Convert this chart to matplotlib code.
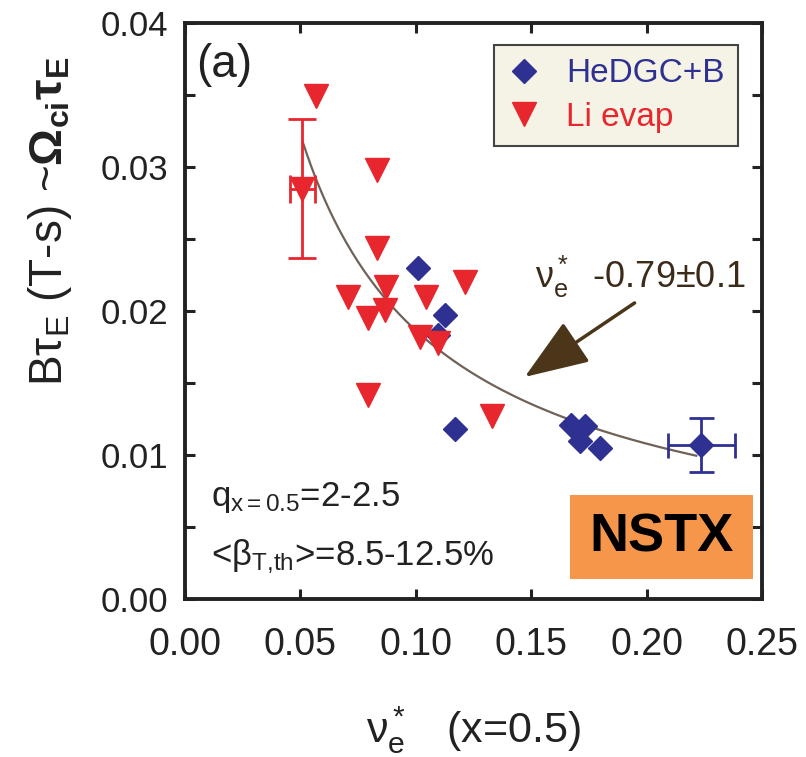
import numpy as np
import matplotlib.pyplot as plt
from matplotlib.patches import Rectangle

plt.rcParams['font.family'] = ['Liberation Sans', 'DejaVu Sans']
plt.rcParams['mathtext.fontset'] = 'custom'
plt.rcParams['mathtext.rm'] = 'Liberation Sans'
plt.rcParams['mathtext.it'] = 'Liberation Sans:italic'
plt.rcParams['mathtext.bf'] = 'Liberation Sans:bold'
plt.rcParams['mathtext.default'] = 'regular'

# Li evaporation shots
li_x = [0.0569, 0.0830, 0.0830, 0.1212, 0.0873, 0.0707, 0.1046,
        0.0866, 0.0794, 0.1017, 0.1097, 0.0794, 0.1328]
li_y = [0.0349, 0.0298, 0.0244, 0.0220, 0.0217, 0.0210, 0.0210,
        0.0201, 0.0195, 0.0182, 0.0178, 0.0142, 0.0127]
# representative point with error bars
li_err_x, li_err_y = 0.0508, 0.0285
li_xerr, li_yerr = 0.0054, 0.0048

# HeDGC+B shots
he_x = [0.1010, 0.1126, 0.1097, 0.1169, 0.1674, 0.1732, 0.1710, 0.1797]
he_y = [0.0230, 0.0197, 0.0183, 0.0118, 0.0121, 0.0120, 0.0110, 0.0105]
he_err_x, he_err_y = 0.2237, 0.0107
he_xerr, he_yerr = 0.0145, 0.0019

# power-law fit  B*tau_E ~ nu_e*^-0.79
fit_exp = -0.79
fit_x0, fit_y0 = 0.0511, 0.0317
fit_xmax = 0.2215

red = '#e8262d'
blue = '#2e3192'
brown = '#4b3619'
ink = '#222222'

fig = plt.figure(figsize=(8.06, 7.57), dpi=100)
ax = fig.add_axes([185/806, 1-599/757, 577/806, 576/757])

xf = np.linspace(fit_x0, fit_xmax, 200)
ax.plot(xf, fit_y0 * (xf / fit_x0) ** fit_exp, color='#6e6259', lw=1.6, zorder=2)

ax.plot(he_x, he_y, 'D', color=blue, ms=12.5, ls='none', label='HeDGC+B', zorder=3)
ax.errorbar(he_err_x, he_err_y, xerr=he_xerr, yerr=he_yerr, fmt='D', color=blue,
            ms=12.5, capsize=9, elinewidth=2, capthick=2, zorder=3)
ax.plot(li_x, li_y, 'v', color=red, ms=17, ls='none', label='Li evap', zorder=4)
ax.errorbar(li_err_x, li_err_y, xerr=li_xerr, yerr=li_yerr, fmt='v', color=red,
            ms=17, capsize=10, elinewidth=2, capthick=2, zorder=4)

ax.set_xlim(0, 0.25)
ax.set_ylim(0, 0.04)
ax.set_xticks(np.arange(0, 0.251, 0.05))
ax.set_yticks(np.arange(0, 0.041, 0.01))
ax.set_yticks(np.arange(0.005, 0.04, 0.01), minor=True)
ax.xaxis.set_major_formatter(plt.FormatStrFormatter('%.2f'))
ax.yaxis.set_major_formatter(plt.FormatStrFormatter('%.2f'))
ax.tick_params(which='both', direction='in', top=True, right=True,
               length=7, width=2.2, color=ink)
ax.tick_params(axis='x', labelsize=27, pad=20, labelcolor=ink)
ax.tick_params(axis='y', labelsize=25, pad=12, labelcolor=ink)
for s in ax.spines.values():
    s.set_linewidth(2.8)
    s.set_color(ink)

ax.set_xlabel(r'$\nu_e^*$   (x=0.5)', fontsize=31, labelpad=30, color=ink)
fig.text(50/806, 1-221/757, r'B$\tau_E$ (T-s) ~$\mathbf{\Omega_{ci}\tau_E}$',
         rotation=90, ha='center', va='center', fontsize=33, color=ink)

ax.text(0.019, 0.927, '(a)', transform=ax.transAxes, fontsize=33,
        ha='left', va='center', color=ink)

leg = ax.legend(loc='upper right', bbox_to_anchor=(0.958, 0.962), fontsize=24,
                frameon=True, fancybox=False, edgecolor='#444444',
                facecolor='#f5f3e5', framealpha=1, numpoints=1,
                handlelength=1.0, handletextpad=0.75, borderpad=0.4,
                labelspacing=0.38, borderaxespad=0)
leg.get_frame().set_linewidth(1.5)
for t, c in zip(leg.get_texts(), [blue, red]):
    t.set_color(c)

ax.annotate('', xy=(0.1472, 0.01542), xytext=(0.1948, 0.02056),
            arrowprops=dict(arrowstyle='-|>,head_length=2.0,head_width=0.75',
                            lw=2.5, color=brown, mutation_scale=20,
                            shrinkA=0, shrinkB=0))
ax.text(0.1515, 0.0224, r'$\nu_e^*$  -0.79±0.1', fontsize=26, color='#3d2b1a',
        ha='left', va='center')

ax.text(0.045, 0.1615, r'q$_{x=0.5}$=2-2.5', transform=ax.transAxes, fontsize=25,
        ha='left', va='baseline', color=ink)
ax.text(0.045, 0.059, r'<$\beta_{T{,}th}$>=8.5-12.5%', transform=ax.transAxes,
        fontsize=25, ha='left', va='baseline', color=ink)

ax.add_patch(Rectangle((0.667, 0.0347), 0.318, 0.1458, transform=ax.transAxes,
                       facecolor='#f5964a', edgecolor='none', zorder=5))
ax.text(0.826, 0.1076, 'NSTX', transform=ax.transAxes, fontsize=39,
        fontweight='bold', ha='center', va='center', color='black', zorder=6)

fig.savefig('out.png', dpi=100)
